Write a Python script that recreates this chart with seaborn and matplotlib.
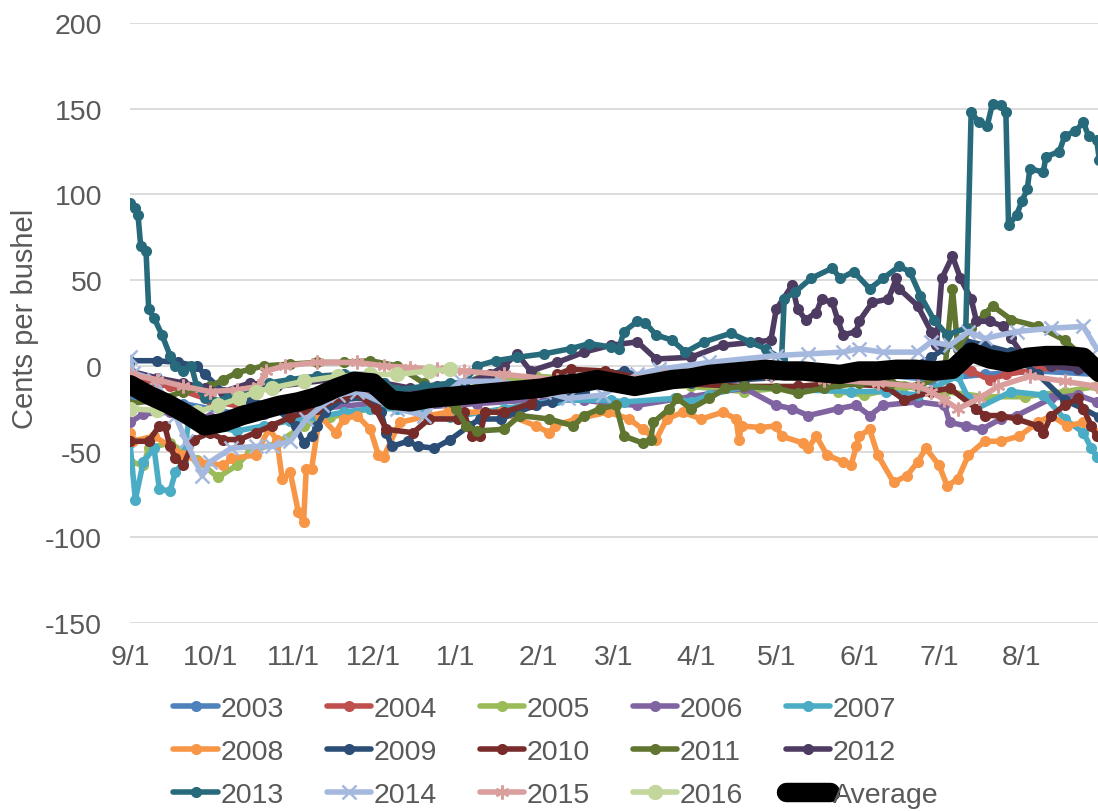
import matplotlib
matplotlib.use("Agg")
import matplotlib.pyplot as plt
import seaborn as sns
import pandas as pd
from matplotlib.lines import Line2D

# ---------------- data (days after Sep 1, cents per bushel) ----------------
d_2003 = [0, 20, 40, 60, 80, 100, 120, 140, 160, 180, 200, 220, 240, 260, 280, 300, 320, 340, 362]
v_2003 = [-20, -22, -28, -26, -20, -15, -15, -15, -14, -12, -10, -8, -6, -5, -5, -8, -5, -3, -5]

d_2004 = [0, 15, 30, 45, 60, 75, 90, 105, 120, 140, 160, 180, 200, 220, 240, 260, 280, 300, 315, 322, 328, 340, 355, 362]
v_2004 = [-8, -12, -20, -25, -22, -18, -15, -18, -16, -13, -10, -8, -7, -5, -4, -4, -3, -4, -3, -8, -5, -2, 0, -2]

d_2005 = [0, 5, 7, 15, 25, 33, 40, 45, 55, 65, 75, 90, 105, 120, 130, 140, 152, 170, 190, 210, 230, 250, 265, 275, 290, 305, 320, 335, 350, 362]
v_2005 = [-56, -58, -48, -45, -55, -65, -58, -50, -45, -35, -30, -25, -18, -12, -8, -8, -6, -8, -10, -12, -15, -12, -15, -17, -12, -15, -18, -18, -15, -12]

d_2006 = [0, 5, 15, 30, 50, 70, 90, 110, 130, 150, 170, 180, 190, 210, 230, 242, 248, 254, 265, 272, 277, 282, 295, 305, 307, 313, 319, 326, 332, 345, 355, 362]
v_2006 = [-33, -28, -27, -30, -28, -25, -22, -24, -22, -20, -20, -22, -23, -18, -13, -23, -25, -29, -25, -23, -29, -23, -21, -23, -33, -35, -37, -31, -29, -19, -17, -21]

d_2007 = [0, 2, 5, 9, 11, 15, 17, 20, 22, 30, 40, 50, 60, 70, 80, 90, 100, 110, 120, 140, 160, 180, 185, 204, 210, 217, 230, 250, 270, 283, 295, 310, 314, 317, 330, 342, 350, 357, 360, 362]
v_2007 = [-45, -78, -56, -48, -72, -73, -62, -56, -31, -35, -38, -35, -32, -30, -27, -25, -25, -28, -30, -25, -20, -20, -21, -19, -21, -17, -12, -14, -15, -15, -17, -6, -19, -25, -15, -17, -31, -39, -48, -53]

d_2008 = [0, 1, 9, 20, 26, 35, 38, 47, 52, 55, 57, 60, 63, 65, 66, 68, 71, 77, 80, 85, 90, 93, 95, 101, 112, 119, 139, 152, 157, 159, 167, 179, 187, 192, 197, 201, 207, 214, 222, 227, 228, 229, 236, 242, 244, 252, 254, 257, 261, 267, 270, 272, 273, 277, 280, 286, 291, 295, 298, 303, 306, 310, 314, 320, 326, 333, 340, 345, 351, 357, 362]
v_2008 = [-39, -44, -41, -52, -56, -58, -54, -52, -37, -43, -66, -62, -85, -91, -60, -60, -29, -39, -31, -29, -37, -52, -53, -33, -29, -27, -27, -35, -39, -35, -31, -27, -31, -37, -43, -31, -27, -31, -27, -31, -43, -35, -36, -35, -41, -45, -48, -41, -52, -56, -58, -47, -41, -37, -52, -68, -64, -56, -48, -58, -70, -66, -52, -44, -44, -41, -33, -29, -35, -33, -39]

d_2009 = [0, 10, 18, 25, 28, 35, 45, 55, 62, 65, 68, 70, 73, 80, 90, 94, 96, 98, 104, 108, 114, 120, 127, 131, 139, 145, 152, 158, 170, 180, 185, 195, 210, 230, 250, 270, 290, 300, 305, 312, 320, 330, 340, 350, 357, 363]
v_2009 = [3, 3, 2, 0, -5, -15, -20, -25, -35, -45, -41, -35, -27, -19, -19, -27, -39, -47, -44, -47, -48, -43, -35, -31, -31, -27, -23, -21, -15, -5, -3, -8, -10, -8, -6, -5, -3, 5, 10, 15, 12, 8, -5, -20, -25, -30]

d_2010 = [0, 7, 11, 13, 15, 17, 20, 24, 30, 35, 41, 47, 53, 60, 70, 80, 84, 92, 96, 106, 112, 123, 125, 128, 131, 133, 140, 150, 160, 165, 178, 200, 230, 250, 265, 283, 290, 300, 307, 317, 320, 326, 332, 340, 342, 345, 350, 355, 357, 360, 362]
v_2010 = [-44, -44, -35, -35, -47, -54, -58, -43, -39, -43, -43, -39, -35, -30, -25, -18, -15, -25, -37, -39, -31, -31, -27, -41, -41, -27, -27, -22, -5, -2, -3, -10, -12, -12, -10, -12, -20, -15, -13, -25, -29, -29, -31, -35, -39, -29, -23, -19, -25, -35, -41]

d_2011 = [0, 10, 20, 30, 35, 40, 45, 50, 60, 70, 80, 90, 100, 110, 118, 122, 126, 130, 140, 146, 157, 166, 170, 176, 182, 185, 192, 195, 196, 202, 205, 210, 217, 223, 230, 242, 250, 260, 273, 285, 295, 305, 308, 310, 315, 320, 323, 330, 340, 350, 357, 363]
v_2011 = [-22, -20, -15, -12, -8, -4, -2, 0, 1, 2, 2, 3, 0, -10, -20, -25, -35, -38, -37, -29, -31, -35, -29, -25, -23, -41, -45, -43, -33, -25, -19, -25, -19, -13, -12, -13, -16, -13, -10, -10, -12, -5, 45, 10, 22, 30, 35, 27, 23, 15, 5, -6]

d_2012 = [0, 10, 20, 28, 35, 45, 55, 65, 75, 85, 95, 105, 115, 125, 135, 140, 145, 150, 160, 170, 180, 190, 197, 210, 222, 235, 240, 242, 248, 250, 253, 257, 259, 263, 265, 267, 272, 273, 278, 284, 287, 288, 295, 300, 302, 304, 308, 311, 315, 317, 322, 327, 330, 335, 345, 355, 363]
v_2012 = [-3, -7, -10, -13, -15, -10, -12, -10, -8, -8, -10, -13, -12, -10, -5, 0, 7, -3, 2, 8, 12, 14, 4, 5, 12, 14, 15, 33, 47, 33, 27, 31, 39, 37, 27, 18, 20, 26, 37, 39, 51, 45, 35, 20, 12, 51, 64, 51, 39, 26, 26, 23, 16, 5, 0, -2, -3]

d_2013 = [0, 2, 3, 4, 6, 7, 9, 12, 15, 17, 20, 23, 25, 28, 32, 37, 45, 52, 60, 70, 80, 90, 95, 100, 110, 120, 125, 130, 137, 145, 155, 165, 172, 180, 183, 185, 190, 193, 197, 203, 208, 215, 225, 232, 238, 244, 245, 249, 255, 263, 266, 271, 277, 282, 288, 292, 296, 301, 306, 313, 315, 318, 321, 323, 326, 328, 329, 332, 334, 336, 337, 342, 343, 348, 350, 354, 357, 359, 362, 363]
v_2013 = [95, 92, 88, 70, 67, 33, 28, 18, 6, 0, -3, 0, -12, -19, -21, -18, -15, -10, -8, -6, -5, -5, -10, -14, -12, -10, -10, 0, 3, 5, 7, 10, 13, 11, 10, 20, 26, 25, 18, 15, 8, 14, 19, 14, 10, 4, 39, 43, 51, 57, 51, 55, 45, 51, 58, 55, 41, 27, 18, 22, 148, 142, 140, 153, 152, 148, 82, 88, 96, 103, 115, 113, 122, 125, 134, 137, 142, 134, 132, 120]

d_2014 = [0, 1, 9, 17, 21, 27, 30, 38, 47, 53, 60, 66, 72, 78, 85, 100, 110, 115, 124, 139, 155, 164, 177, 190, 198, 217, 242, 254, 267, 273, 282, 295, 300, 307, 314, 320, 332, 345, 357, 362]
v_2014 = [5, -4, -8, -29, -44, -64, -56, -48, -47, -47, -44, -31, -23, -17, -15, -25, -29, -20, -9, -9, -15, -19, -17, -5, -2, 2, 6, 7, 8, 10, 8, 8, 14, 12, 20, 16, 20, 22, 23, 10]

d_2015 = [0, 10, 20, 30, 40, 48, 51, 58, 70, 85, 95, 105, 115, 125, 140, 160, 180, 200, 220, 240, 260, 280, 295, 300, 305, 310, 318, 325, 337, 350, 362]
v_2015 = [-5, -8, -12, -15, -14, -12, -3, 0, 2, 2, 0, -1, -2, -3, -5, -8, -8, -6, -5, -6, -8, -10, -12, -15, -20, -25, -19, -12, -6, -9, -12]

d_2016 = [0, 10, 25, 33, 41, 47, 53, 65, 78, 90, 100, 112, 120]
v_2016 = [-25, -26, -27, -23, -19, -15, -13, -9, -6, -5, -5, -3, -2]

d_avg = [0, 7, 14, 21, 28, 35, 42, 49, 56, 63, 70, 77, 84, 91, 98, 105, 112, 119, 126, 133, 140, 147, 154, 161, 168, 175, 182, 189, 196, 203, 210, 217, 224, 231, 238, 245, 252, 259, 266, 273, 280, 287, 294, 301, 308, 315, 322, 329, 336, 343, 350, 357, 363]
v_avg = [-11, -17, -22, -28, -35, -33, -29, -26, -23, -21, -18, -13, -9, -10, -20, -21, -19, -18, -17, -16, -15, -14, -13, -11, -10, -8, -10, -12, -10, -8, -7, -5, -4, -3, -2, -3, -3, -4, -5, -3, -3, -2, -2, -3, -2, 8, 4, 2, 5, 6, 6, 5, -4]

series_names = ["2003", "2004", "2005", "2006", "2007", "2008", "2009", "2010",
                "2011", "2012", "2013", "2014", "2015", "2016", "Average"]
series_days = [d_2003, d_2004, d_2005, d_2006, d_2007, d_2008, d_2009, d_2010,
               d_2011, d_2012, d_2013, d_2014, d_2015, d_2016, d_avg]
series_vals = [v_2003, v_2004, v_2005, v_2006, v_2007, v_2008, v_2009, v_2010,
               v_2011, v_2012, v_2013, v_2014, v_2015, v_2016, v_avg]

tick_days = [0, 30, 61, 91, 122, 153, 181, 212, 242, 273, 303, 334]
tick_labels = ["9/1", "10/1", "11/1", "12/1", "1/1", "2/1", "3/1", "4/1",
               "5/1", "6/1", "7/1", "8/1"]
y_ticks = [-150, -100, -50, 0, 50, 100, 150, 200]

# ---------------- styles ----------------
colors = {
    "2003": "#4F81BD", "2004": "#C0504D", "2005": "#9BBB59", "2006": "#8064A2",
    "2007": "#4BACC6", "2008": "#F79646", "2009": "#2C4D75", "2010": "#772C2A",
    "2011": "#5F7530", "2012": "#4D3B62", "2013": "#276A7C", "2014": "#A5B8DE",
    "2015": "#DA9F9D", "2016": "#C3D69B", "Average": "#000000",
}
markers = {n: "o" for n in series_names}
markers["2014"] = "x"
markers["2015"] = (6, 2, 0)
markers["Average"] = None
msize = {n: 8 for n in series_names}
msize["2016"] = 11
msize["2014"] = 10
msize["2015"] = 10
LW = 4.0
FS = 20.5

sns.set_theme(style="white")
plt.rcParams["font.family"] = ["Liberation Sans", "DejaVu Sans"]
TXT = "#595959"

fig = plt.figure(figsize=(10.98, 8.12), dpi=100)
ax = fig.add_axes([130 / 1098, 1 - 624 / 812, 1 - 130 / 1098, 600 / 812])

for name, dd, vv in zip(series_names, series_days, series_vals):
    df = pd.DataFrame({"day": dd, "val": vv})
    if name == "Average":
        sns.lineplot(data=df, x="day", y="val", ax=ax, color="black",
                     linewidth=14, estimator=None, label=name,
                     solid_capstyle="round", solid_joinstyle="round", zorder=5)
    else:
        mk = markers[name]
        kw = dict(marker=mk, markersize=msize[name], color=colors[name],
                  linewidth=LW, estimator=None, label=name, zorder=3)
        if mk == "o":
            kw["markeredgewidth"] = 0
        else:
            kw["markeredgewidth"] = 1.8
            kw["markeredgecolor"] = colors[name]
        sns.lineplot(data=df, x="day", y="val", ax=ax, **kw)

ax.set_xlim(0, 362.5)
ax.set_ylim(-150, 200)
ax.set_yticks(y_ticks)
ax.set_yticklabels([str(t) for t in y_ticks])
ax.set_xticks(tick_days)
ax.set_xticklabels(tick_labels)
ax.grid(axis="y", color="#D9D9D9", linewidth=1.3)
ax.grid(axis="x", visible=False)
ax.set_axisbelow(True)
for s in ax.spines.values():
    s.set_visible(False)
ax.tick_params(axis="y", length=0, pad=20, labelsize=FS, labelcolor=TXT)
ax.tick_params(axis="x", length=0, pad=15, labelsize=FS, labelcolor=TXT)
ax.set_xlabel("")
ax.set_ylabel("Cents per bushel", fontsize=FS + 0.5, color=TXT)
ax.yaxis.set_label_coords(-0.094, 0.508)

# legend (row-major order, 5 columns)
new_h = []
for n in series_names:
    if n == "Average":
        new_h.append(Line2D([], [], color="black", linewidth=14,
                            solid_capstyle="round"))
    else:
        mk = markers[n]
        new_h.append(Line2D([], [], color=colors[n], marker=mk,
                            markersize=msize[n], linewidth=LW,
                            markeredgewidth=0 if mk == "o" else 1.8,
                            markeredgecolor=colors[n]))
order = [0, 5, 10, 1, 6, 11, 2, 7, 12, 3, 8, 13, 4, 9, 14]
ax.legend([new_h[i] for i in order], [series_names[i] for i in order],
          ncol=5, loc="upper left", bbox_to_anchor=(0.158, 0.1416),
          bbox_transform=fig.transFigure, frameon=False, fontsize=FS,
          handlelength=1.55, handletextpad=0.1, columnspacing=1.5,
          labelspacing=0.6, borderpad=0, borderaxespad=0,
          labelcolor=TXT)

fig.savefig("out.png", dpi=100)
